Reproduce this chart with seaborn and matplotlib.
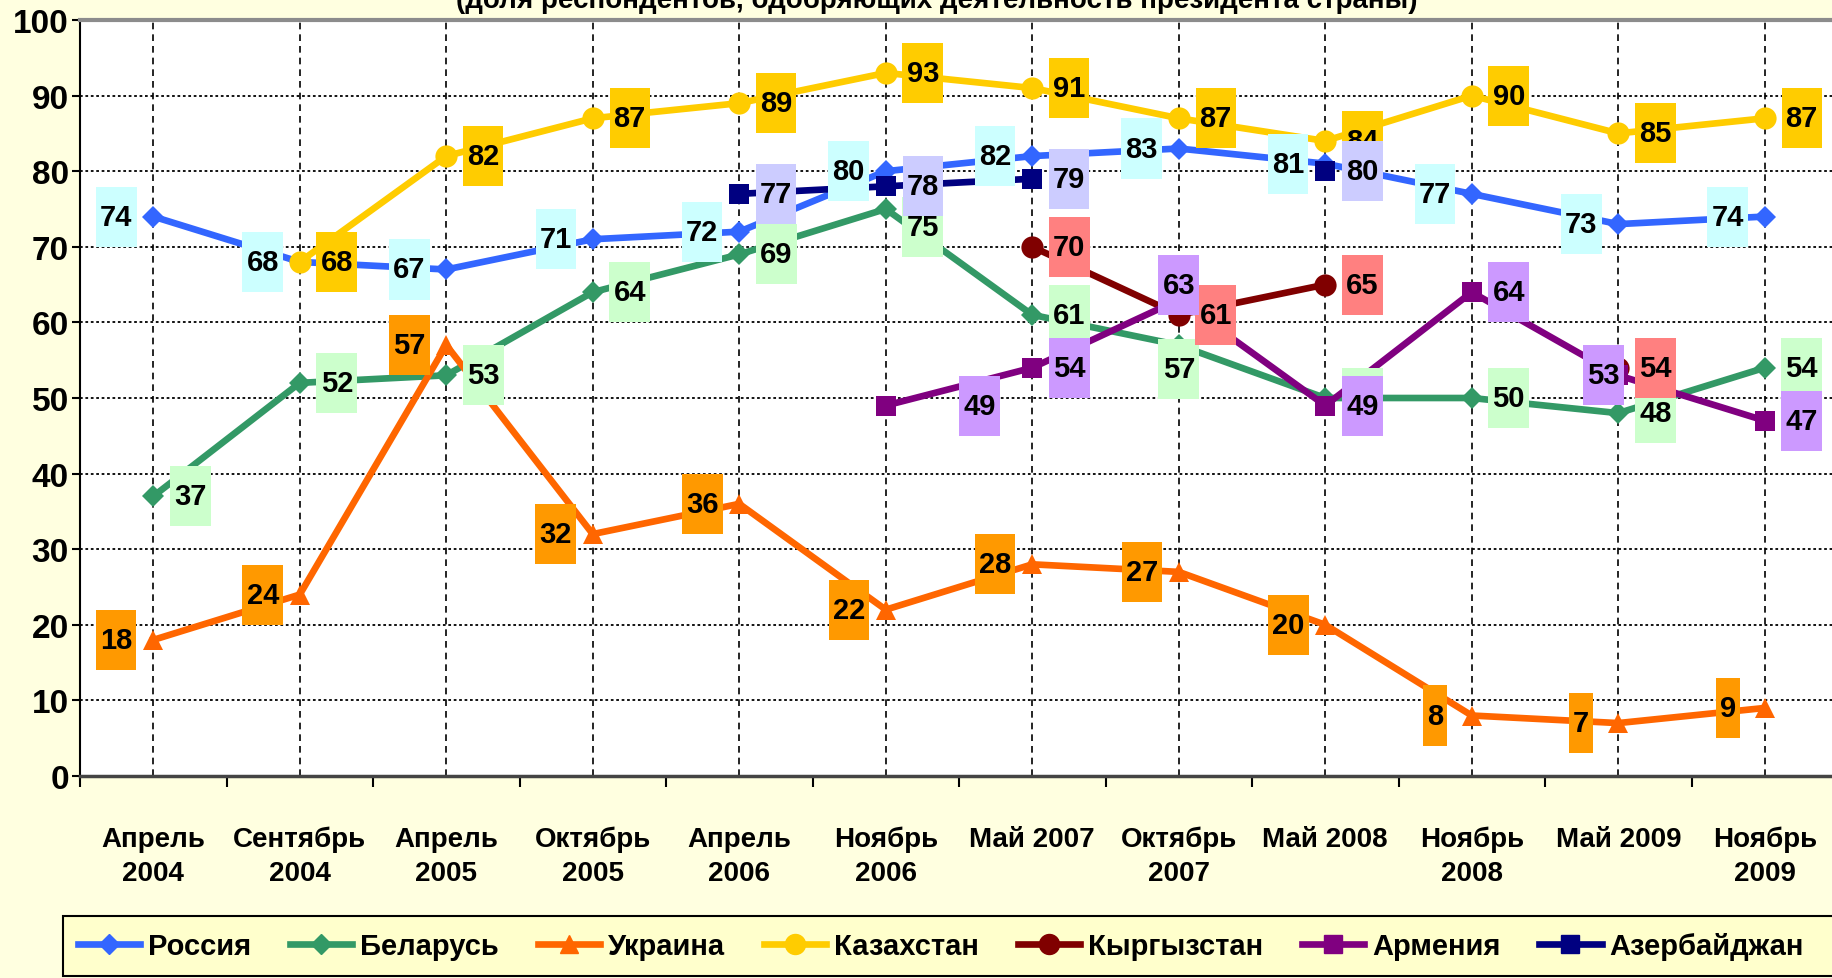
import numpy as np
import pandas as pd
import matplotlib
matplotlib.use("Agg")
import matplotlib.pyplot as plt
from matplotlib import font_manager
from matplotlib.lines import Line2D
from matplotlib.patches import Rectangle
from matplotlib.path import Path
import seaborn as sns

# ---- data -------------------------------------------------------------
categories = ["Апрель\n2004", "Сентябрь\n2004", "Апрель\n2005", "Октябрь\n2005",
              "Апрель\n2006", "Ноябрь\n2006", "Май 2007", "Октябрь\n2007",
              "Май 2008", "Ноябрь\n2008", "Май 2009", "Ноябрь\n2009"]

nan = np.nan
russia = [74, 68, 67, 71, 72, 80, 82, 83, 81, 77, 73, 74]
belarus = [37, 52, 53, 64, 69, 75, 61, 57, 50, 50, 48, 54]
ukraine = [18, 24, 57, 32, 36, 22, 28, 27, 20, 8, 7, 9]
kazakhstan = [nan, 68, 82, 87, 89, 93, 91, 87, 84, 90, 85, 87]
kyrgyzstan = [nan, nan, nan, nan, nan, nan, 70, 61, 65, nan, 54, nan]
armenia = [nan, nan, nan, nan, nan, 49, 54, 63, 49, 64, 53, 47]
azerbaijan = [nan, nan, nan, nan, 77, 78, 79, nan, 80, nan, nan, nan]

series_names = ["Россия", "Беларусь", "Украина", "Казахстан",
                "Кыргызстан", "Армения", "Азербайджан"]
series_values = [russia, belarus, ukraine, kazakhstan, kyrgyzstan, armenia, azerbaijan]

title_text = "(доля респондентов, одобряющих деятельность президента страны)"

# ---- styles -----------------------------------------------------------
line_colors = ["#3366FF", "#339966", "#FF6600", "#FFCC00", "#800000", "#800080", "#000080"]
label_colors = ["#CCFFFF", "#CCFFCC", "#FF9900", "#FFCC00", "#FF8080", "#CC99FF", "#CCCCFF"]
markers = ["D", "D", "^", "o", "o", "s", "s"]
marker_sizes = [11.5, 11.5, 15, 16, 16, 14, 14]
label_side = [-1, 1, -1, 1, 1, 1, 1]          # value boxes left/right of the point
# individual value-box shifts (pixels): (series, point) -> (dx, dy)
label_shift = {(5, 5): (94, 0), (1, 5): (37, -18), (1, 7): (0, -24),
               (5, 7): (0, 15), (5, 10): (-15, 0)}

FONT = "Liberation Sans"
installed = {f.name for f in font_manager.fontManager.ttflist}
if "Liberation Sans Narrow" in installed:
    LEG_FONT, LEG_SIZE = "Liberation Sans Narrow", 25
else:
    LEG_FONT, LEG_SIZE = FONT, 21
plt.rcParams["font.family"] = [FONT, "DejaVu Sans"]

# long-form table, with a segment id so that gaps stay open
rows = []
for name, vals in zip(series_names, series_values):
    seg = 0
    prev_nan = True
    for i, v in enumerate(vals):
        if np.isnan(v):
            prev_nan = True
            continue
        if prev_nan:
            seg += 1
        prev_nan = False
        rows.append({"country": name, "pos": i, "value": v, "seg": seg})
df = pd.DataFrame(rows)

W, H, DPI = 1833, 979, 100
fig = plt.figure(figsize=(W / DPI, H / DPI), dpi=DPI)
fig.patch.set_facecolor("#FFFFE0")
ax = fig.add_axes([80 / W, (H - 777) / H, 1758 / W, 756 / H])
ax.set_facecolor("white")

# grid
for yv in range(10, 100, 10):
    ax.axhline(yv, color="black", lw=1.3, ls=(0, (1.5, 1.5)), zorder=1)
for xi in range(len(categories)):
    ax.axvline(xi, color="black", lw=1.2, ls=(0, (4, 3)), zorder=1)

# lines
for k, name in enumerate(series_names):
    sub = df[df["country"] == name]
    sns.lineplot(data=sub, x="pos", y="value", units="seg", estimator=None,
                 color=line_colors[k], lw=4.8, marker=markers[k],
                 markersize=marker_sizes[k], markeredgecolor=line_colors[k],
                 markeredgewidth=0, legend=False, ax=ax, zorder=3 + k * 0.1,
                 clip_on=False)


def tall_box(x0, y0, width, height, mutation_size):
    px = 0.14 * mutation_size
    py = 0.55 * mutation_size
    x0, y0 = x0 - px, y0 - py
    x1, y1 = x0 + width + 2 * px, y0 + height + 2 * py
    return Path([(x0, y0), (x1, y0), (x1, y1), (x0, y1), (x0, y0)], closed=True)


# value boxes
for k, vals in enumerate(series_values):
    for i, v in enumerate(vals):
        if np.isnan(v):
            continue
        dx, dy = label_shift.get((k, i), (37 * label_side[k], 0))
        ax.annotate(f"{v:.0f}", (i, v), xytext=(dx * 0.72, dy * 0.72),
                    textcoords="offset points", ha="center", va="center",
                    fontsize=21, fontweight="bold", color="black",
                    bbox=dict(boxstyle=tall_box, fc=label_colors[k], ec="none"),
                    zorder=10 + k, annotation_clip=False)

# axes
ax.set_xlim(-0.5, len(categories) - 0.5)
ax.set_ylim(0, 100)
ax.set_xticks(range(len(categories)))
ax.set_xticklabels(categories, fontsize=20, fontweight="bold", linespacing=1.4)
ax.set_xticks(np.arange(-0.5, len(categories), 1.0), minor=True)
ax.tick_params(axis="x", which="major", length=0, pad=36)
ax.tick_params(axis="x", which="minor", length=8, width=1.5, color="black", direction="out")
ax.set_yticks(range(0, 101, 10))
ax.set_yticklabels([str(t) for t in range(0, 101, 10)], fontsize=24, fontweight="bold")
ax.tick_params(axis="y", length=6, width=1.5, pad=2, color="black")
ax.set_xlabel("")
ax.set_ylabel("")
ax.spines["left"].set_color("black")
ax.spines["left"].set_linewidth(1.5)
ax.spines["bottom"].set_color("#444444")
ax.spines["bottom"].set_linewidth(2.5)
ax.spines["top"].set_color("#8C8C8C")
ax.spines["top"].set_linewidth(3)
ax.spines["right"].set_color("#8C8C8C")
ax.spines["right"].set_linewidth(3)

# title (top edge of the canvas)
fig.text(937 / W, 1 - 8 / H, title_text, ha="center", va="baseline",
         fontsize=20, fontweight="bold", color="black")

# legend: frame box running to the right edge, entries on top of it
fig.patches.append(Rectangle((63 / W, 2 / H), 1800 / W, 60 / H,
                             transform=fig.transFigure, facecolor="#FFFFCC",
                             edgecolor="black", linewidth=1.5, zorder=0))
handles = [Line2D([0], [0], color=line_colors[k], lw=4.8, marker=markers[k],
                  markersize=marker_sizes[k] * 0.9, markeredgecolor=line_colors[k])
           for k in range(len(series_names))]
leg = fig.legend(handles, series_names, loc="center left", ncol=7,
                 bbox_to_anchor=(66 / W, 32 / H),
                 prop={"family": LEG_FONT, "weight": "bold", "size": LEG_SIZE},
                 frameon=False, handlelength=45 / LEG_SIZE,
                 handletextpad=5.5 / LEG_SIZE, borderpad=0.4, borderaxespad=0,
                 columnspacing=28 / LEG_SIZE)

fig.savefig("out.png", dpi=DPI, facecolor=fig.get_facecolor())
